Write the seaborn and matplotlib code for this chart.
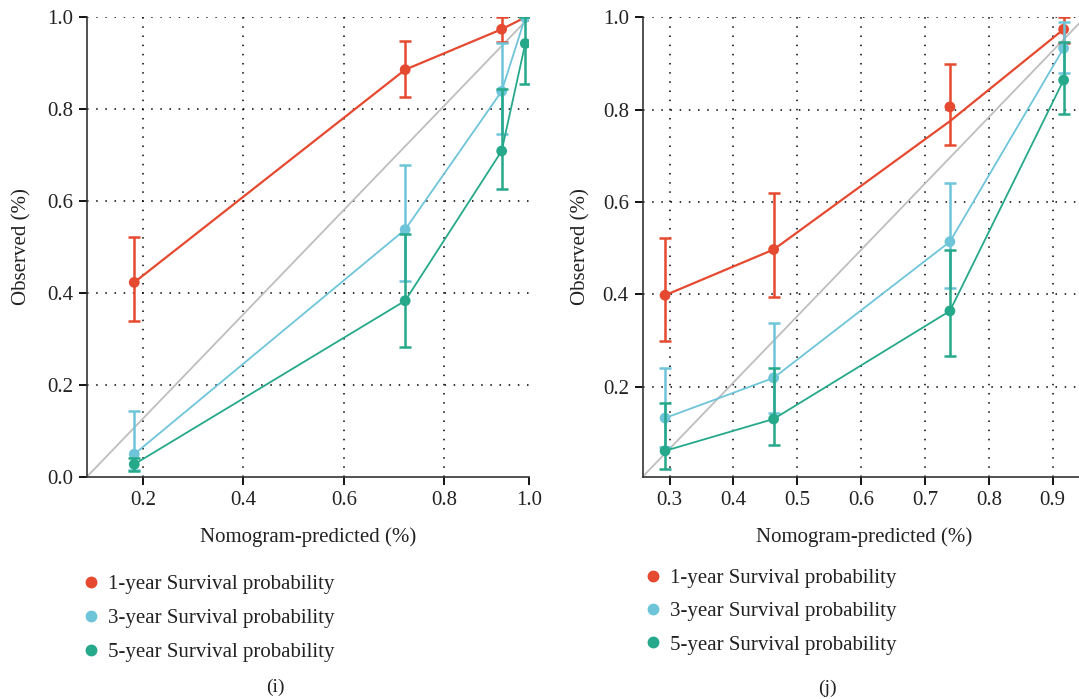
import numpy as np
import pandas as pd
import seaborn as sns
import matplotlib.pyplot as plt
from matplotlib.lines import Line2D

# Calibration data
series_names = ["1-year Survival probability", "3-year Survival probability", "5-year Survival probability"]
series_colors = ["#E5492F", "#6EC5DA", "#26A88B"]

# panel (i)
pred_i = [0.183, 0.722, 0.914, 0.961]
obs_i = [
    [0.423, 0.886, 0.974, 1.000],
    [0.049, 0.538, 0.839, 1.000],
    [0.027, 0.383, 0.709, 0.943],
]
line_i = obs_i
lo_i = [
    [0.340, 0.827, 0.946, 1.000],
    [0.015, 0.426, 0.746, 1.000],
    [0.012, 0.283, 0.627, 0.854],
]
hi_i = [
    [0.522, 0.948, 1.000, 1.000],
    [0.144, 0.679, 0.944, 1.000],
    [0.040, 0.529, 0.844, 1.000],
]
xticks_i = [0.2, 0.4, 0.6, 0.8, 0.969]
xticklabels_i = ["0.2", "0.4", "0.6", "0.8", "1.0"]
yticks_i = [0.0, 0.2, 0.4, 0.6, 0.8, 1.0]

# panel (j)
pred_j = [0.293, 0.463, 0.739, 0.917]
obs_j = [
    [0.398, 0.497, 0.806, 0.974],
    [0.132, 0.219, 0.514, 0.933],
    [0.061, 0.130, 0.364, 0.864],
]
line_j = [
    [0.398, 0.497, 0.775, 0.974],
    [0.132, 0.219, 0.514, 0.933],
    [0.061, 0.130, 0.364, 0.864],
]
lo_j = [
    [0.299, 0.395, 0.723, 0.944],
    [0.070, 0.142, 0.414, 0.879],
    [0.022, 0.074, 0.267, 0.790],
]
hi_j = [
    [0.523, 0.619, 0.899, 1.000],
    [0.240, 0.337, 0.642, 0.990],
    [0.164, 0.240, 0.497, 0.946],
]
xticks_j = [0.3, 0.4, 0.5, 0.6, 0.7, 0.8, 0.9]
xticklabels_j = ["0.3", "0.4", "0.5", "0.6", "0.7", "0.8", "0.9"]
yticks_j = [0.2, 0.4, 0.6, 0.8, 1.0]

sns.set_style("ticks")
plt.rcParams["font.family"] = ["Liberation Serif", "DejaVu Serif"]
plt.rcParams["font.size"] = 15

W, H = 1079, 699
fig = plt.figure(figsize=(W / 100, H / 100), dpi=100)


def px_rect(x0, y0, x1, y1):
    return [x0 / W, 1 - y1 / H, (x1 - x0) / W, (y1 - y0) / H]


def draw_panel(ax, pred, obs, line, lo, hi, xlim, ylim, xticks, xticklabels, yticks):
    ax.set_xlim(*xlim)
    ax.set_ylim(*ylim)

    # diagonal reference
    ax.plot([0, 1], [0, 1], transform=ax.transAxes, color="#BEBEBE", lw=1.3, zorder=1)

    for k, name in enumerate(series_names):
        df = pd.DataFrame({"pred": pred, "obs": obs[k], "line": line[k]})
        col = series_colors[k]
        sns.lineplot(data=df, x="pred", y="line", color=col, lw=1.6 if k == 0 else 1.3,
                     sort=False, estimator=None, ax=ax, zorder=3 + k)
        yerr = [np.array(obs[k]) - np.array(lo[k]), np.array(hi[k]) - np.array(obs[k])]
        ax.errorbar(pred, obs[k], yerr=yerr, fmt="none", ecolor=col, elinewidth=1.8,
                    capsize=4.2, capthick=1.8, zorder=3 + k)
        sns.scatterplot(data=df, x="pred", y="obs", color=col, s=60, edgecolor="none",
                        ax=ax, zorder=4 + k)

    ax.set_xticks(xticks)
    ax.set_xticklabels(xticklabels)
    ax.set_yticks(yticks)
    ax.set_yticklabels([f"{v:.1f}" for v in yticks])
    ax.grid(True, color="black", lw=1.1, linestyle=(0, (1, 5)))
    ax.tick_params(direction="out", length=6, width=1.3, color="black", pad=4, labelsize=15,
                   labelcolor="#222222")
    sns.despine(ax=ax)
    for s in ["left", "bottom"]:
        ax.spines[s].set_color("#333333")
        ax.spines[s].set_linewidth(1.2)
    ax.set_xlabel("Nomogram-predicted (%)", fontsize=15, color="#222222")
    ax.set_ylabel("Observed (%)", fontsize=15, color="#222222")
    ax.xaxis.set_label_coords(0.5, -0.11)


ax1 = fig.add_axes(px_rect(87, 17.3, 529.3, 476.7))
draw_panel(ax1, pred_i, obs_i, line_i, lo_i, hi_i, (0.089, 0.969), (0.0, 1.0),
           xticks_i, xticklabels_i, yticks_i)
ax1.xaxis.get_gridlines()[-1].set_visible(False)
ax1.yaxis.get_gridlines()[0].set_visible(False)
ax1.yaxis.set_label_coords(-0.125, 0.5)

ax2 = fig.add_axes(px_rect(642.7, 17.3, 1085, 476.7))
draw_panel(ax2, pred_j, obs_j, line_j, lo_j, hi_j, (0.258, 0.9505), (0.005, 1.0),
           xticks_j, xticklabels_j, yticks_j)
ax2.yaxis.set_label_coords(-0.118, 0.5)

# legends below each panel
handles = [Line2D([], [], marker="o", ls="none", color=c, markersize=7.5) for c in series_colors]
for x0, y0, sp in [(82, 574.5, 0.69), (644, 568.5, 0.66)]:
    fig.legend(handles, series_names, loc="upper left",
               bbox_to_anchor=(x0 / W, 1 - y0 / H), frameon=False, fontsize=15,
               handlelength=0.9, handletextpad=0.35, labelspacing=sp,
               borderpad=0, borderaxespad=0, labelcolor="#222222")

fig.text(275 / W, 1 - 687 / H, "(i)", ha="center", va="center", fontsize=14, color="#222222")
fig.text(827 / W, 1 - 688 / H, "(j)", ha="center", va="center", fontsize=14, color="#222222")

fig.savefig("out.png", dpi=100)
